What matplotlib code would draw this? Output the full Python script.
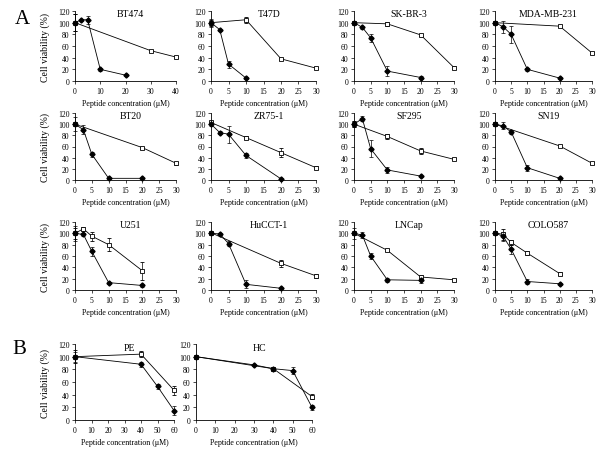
import matplotlib
matplotlib.use("Agg")
import matplotlib.pyplot as plt

plt.rcParams["font.family"] = ["Liberation Serif", "DejaVu Serif"]

# panel names, in reading order
names = ["BT474", "T47D", "SK-BR-3", "MDA-MB-231",
         "BT20", "ZR75-1", "SF295", "SN19",
         "U251", "HuCCT-1", "LNCap", "COLO587",
         "PE", "HC"]
x_max = [40, 30, 30, 30, 30, 30, 30, 30, 30, 30, 30, 30, 60, 60]
x_step = [10, 5, 5, 5, 5, 5, 5, 5, 5, 5, 5, 5, 10, 10]

# open squares
sq_x = [[0, 30, 40], [0, 10, 20, 30], [0, 10, 20, 30], [0, 20, 30],
        [0, 20, 30], [0, 10, 20, 30], [0, 10, 20, 30], [0, 20, 30],
        [0, 2.5, 5, 10, 20], [0, 20, 30], [0, 10, 20, 30], [0, 2.5, 5, 10, 20],
        [0, 40, 60], [0, 40, 60]]
sq_y = [[100, 52, 41], [100, 105, 38, 22], [100, 98, 79, 23], [100, 94, 48],
        [100, 58, 30], [103, 76, 49, 22], [100, 78, 52, 37], [100, 61, 30],
        [100, 108, 95, 80, 34], [101, 47, 25], [100, 70, 23, 18], [101, 98, 84, 65, 29],
        [100, 104, 47], [100, 81, 37]]
sq_err = [[15, 2, 2], [5, 5, 2, 2], [3, 3, 2, 2], [3, 2, 2],
          [3, 2, 3], [3, 2, 8, 3], [5, 5, 5, 2], [3, 2, 2],
          [10, 3, 8, 11, 16], [3, 6, 4], [3, 2, 3, 2], [3, 10, 5, 4, 3],
          [10, 5, 7], [3, 3, 4]]

# filled diamonds
dm_x = [[0, 2.5, 5, 10, 20], [0, 2.5, 5, 10], [0, 2.5, 5, 10, 20], [0, 2.5, 5, 10, 20],
        [0, 2.5, 5, 10, 20], [0, 2.5, 5, 10, 20], [0, 2.5, 5, 10, 20], [0, 2.5, 5, 10, 20],
        [0, 2.5, 5, 10, 20], [0, 2.5, 5, 10, 20], [0, 2.5, 5, 10, 20], [0, 2.5, 5, 10, 20],
        [0, 40, 50, 60], [0, 30, 40, 50, 60]]
dm_y = [[100, 105, 105, 20, 10], [100, 88, 29, 5], [100, 92, 74, 17, 6], [100, 93, 80, 20, 5],
        [100, 90, 46, 3, 3], [100, 85, 82, 44, 2], [100, 110, 56, 18, 7], [100, 97, 86, 22, 3],
        [100, 98, 68, 13, 8], [100, 99, 82, 10, 3], [100, 97, 60, 18, 17], [100, 95, 72, 15, 11],
        [100, 88, 53, 15], [100, 87, 81, 78, 20]]
dm_err = [[15, 2, 7, 2, 2], [7, 2, 6, 2], [3, 2, 7, 9, 2], [3, 10, 15, 2, 2],
          [13, 8, 5, 1, 1], [3, 2, 15, 5, 1], [5, 5, 15, 6, 1], [3, 6, 4, 5, 1],
          [13, 2, 8, 2, 2], [3, 2, 5, 7, 1], [10, 5, 6, 4, 4], [3, 8, 8, 4, 2],
          [8, 4, 4, 7], [3, 2, 2, 5, 4]]

# panel boxes in pixels: (left, right, top, bottom) of the 0..xmax / 0..120 area
cols = [(75, 176), (211, 316), (354, 454), (495, 592)]
rows = [(12, 82), (114, 181), (223, 291)]
boxes = [(c[0], c[1], r[0], r[1]) for r in rows for c in cols]
boxes += [(75, 174, 345, 421), (196, 312, 345, 421)]

W, H = 600, 456
fig = plt.figure(figsize=(6, 4.56), dpi=100)

for i, name in enumerate(names):
    x0, x1, yt, yb = boxes[i]
    ax = fig.add_axes([x0 / W, 1 - yb / H, (x1 - x0) / W, (yb - yt) / H])
    ax.errorbar(sq_x[i], sq_y[i], yerr=sq_err[i], color="black", lw=0.6,
                marker="s", ms=3.2, mfc="white", mec="black", mew=0.6,
                elinewidth=0.5, capsize=1.5, capthick=0.5, clip_on=False)
    ax.errorbar(dm_x[i], dm_y[i], yerr=dm_err[i], color="black", lw=0.6,
                marker="D", ms=2.6, mfc="black", mec="black",
                elinewidth=0.5, capsize=1.5, capthick=0.5, clip_on=False)
    ax.set_xlim(0, x_max[i])
    ax.set_ylim(0, 120)
    ax.set_xticks(range(0, x_max[i] + 1, x_step[i]))
    ax.set_yticks(range(0, 121, 20))
    ax.spines["top"].set_visible(False)
    ax.spines["right"].set_visible(False)
    for s in ("left", "bottom"):
        ax.spines[s].set_linewidth(0.6)
    ax.tick_params(labelsize=5.5, length=2, width=0.5, pad=2)
    ax.set_xlabel("Peptide concentration (\u03bcM)", fontsize=5.8, labelpad=3)
    if x0 < 100:
        ax.set_ylabel("Cell viability (%)", fontsize=7, labelpad=6)
    ax.text(0.55, 0.96, name, transform=ax.transAxes, ha="center", va="center",
            fontsize=7)

fig.text(15 / W, 1 - 20 / H, "A", fontsize=15, ha="left", va="center")
fig.text(12 / W, 1 - 350 / H, "B", fontsize=15, ha="left", va="center")

fig.savefig("out.png", dpi=100)
